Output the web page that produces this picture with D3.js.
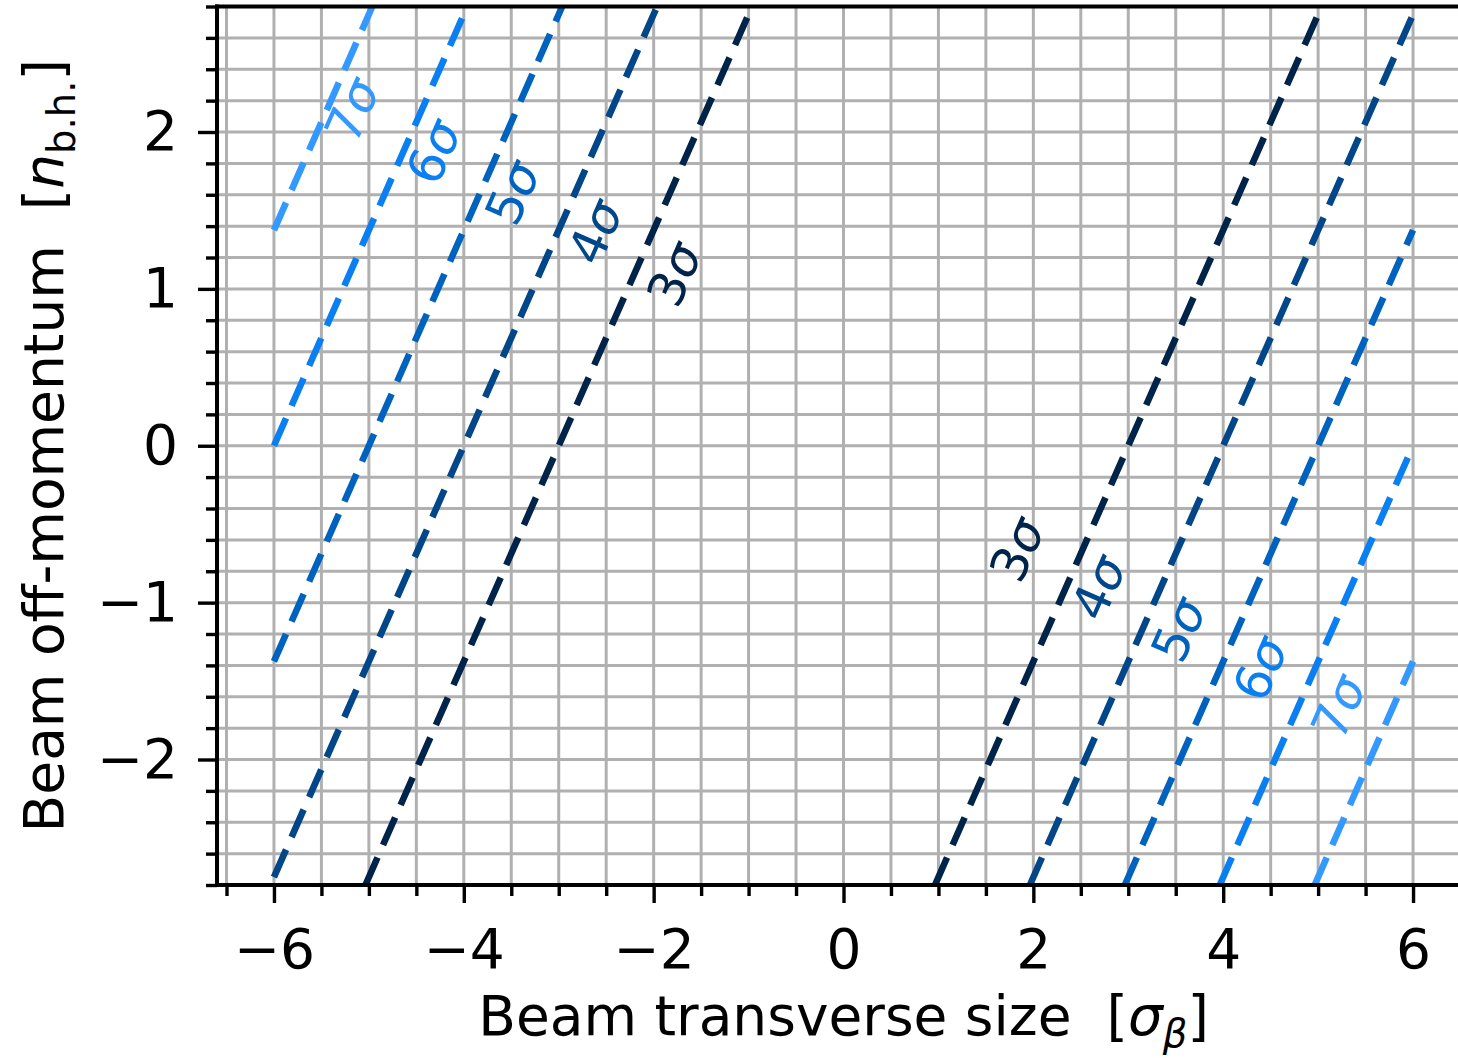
<!DOCTYPE html>
<html>
<head>
<meta charset="utf-8">
<script src="https://cdn.jsdelivr.net/npm/d3@7"></script>
<style>
  html, body { margin: 0; padding: 0; background: #ffffff; }
  svg { display: block; }
  text { font-family: "DejaVu Sans", sans-serif; }
</style>
</head>
<body>
<svg id="chart" width="1458" height="1058"></svg>
<script>
// Beam-halo aperture levels (in units of sigma) drawn as dashed lines
const levels = [3, 4, 5, 6, 7];
const levelColors = ["#00234a", "#004689", "#0062bf", "#0a7ff2", "#3399ff"];
// dispersion ratio: off-momentum per unit of transverse size
const slope = 1.375;
// transverse extent of the computed envelope
const xExtent = [-6, 6];

// label anchor points (x, y) for the left (negative) and right (positive) branches
const leftLabelX  = [-1.786, -2.618, -3.489, -4.322, -5.181];
const leftLabelY  = [ 1.095,  1.365,  1.614,  1.875,  2.141];
const rightLabelX = [ 1.825,  2.684,  3.527,  4.388,  5.213];
const rightLabelY = [-0.660, -0.903, -1.171, -1.419, -1.664];

// axis ticks
const xMajorTicks = [-6, -4, -2, 0, 2, 4, 6];
const xMinorTicks = [-6.5, -5.5, -5, -4.5, -3.5, -3, -2.5, -1.5, -1, -0.5, 0.5, 1, 1.5, 2.5, 3, 3.5, 4.5, 5, 5.5, 6.5];
const yMajorTicks = [-2, -1, 0, 1, 2];
const yMinorTicks = [-2.8, -2.6, -2.4, -2.2, -1.8, -1.6, -1.4, -1.2, -0.8, -0.6, -0.4, -0.2,
                     0.2, 0.4, 0.6, 0.8, 1.2, 1.4, 1.6, 1.8, 2.2, 2.4, 2.6, 2.8];

const xDomain = [-6.6, 6.6];
const yDomain = [-2.8, 2.8];

const plot = { left: 217, right: 1470, top: 6.5, bottom: 885 };

const svg = d3.select("#chart");
svg.append("rect").attr("width", 1458).attr("height", 1058).attr("fill", "#ffffff");

const x = d3.scaleLinear().domain(xDomain).range([plot.left, plot.right]);
const y = d3.scaleLinear().domain(yDomain).range([plot.bottom, plot.top]);

const minus = v => (v < 0 ? "\u2212" + Math.abs(v) : String(v));

svg.append("clipPath").attr("id", "plotClip")
  .append("rect")
  .attr("x", plot.left).attr("y", plot.top)
  .attr("width", plot.right - plot.left).attr("height", plot.bottom - plot.top);

// grid on both major and minor ticks
const grid = svg.append("g").attr("clip-path", "url(#plotClip)")
  .attr("stroke", "#b0b0b0").attr("stroke-width", 3);
grid.selectAll("line.gx").data(xMajorTicks.concat(xMinorTicks)).join("line")
  .attr("class", "gx")
  .attr("x1", d => x(d)).attr("x2", d => x(d))
  .attr("y1", plot.top).attr("y2", plot.bottom);
grid.selectAll("line.gy").data(yMajorTicks.concat(yMinorTicks)).join("line")
  .attr("class", "gy")
  .attr("x1", plot.left).attr("x2", plot.right)
  .attr("y1", d => y(d)).attr("y2", d => y(d));

// level lines: x = ±n + y / slope, built from the bottom of the y range upward
function branch(n, sign) {
  const x0 = sign * n;
  let pts = [[xExtent[0], (xExtent[0] - x0) * slope], [xExtent[1], (xExtent[1] - x0) * slope]];
  // trim to the vertical range of the envelope
  const yLo = yDomain[0], yHi = yDomain[1];
  pts = pts.map(([px, py]) => {
    if (py < yLo) return [x0 + yLo / slope, yLo];
    if (py > yHi) return [x0 + yHi / slope, yHi];
    return [px, py];
  });
  return pts;
}

const lineGen = d3.line().x(d => x(d[0])).y(d => y(d[1]));
const lines = svg.append("g").attr("clip-path", "url(#plotClip)");
levels.forEach((n, i) => {
  [-1, 1].forEach(sign => {
    const pts = branch(n, sign);
    if (pts[0][0] >= pts[1][0]) return;
    lines.append("path")
      .attr("d", lineGen(pts))
      .attr("fill", "none")
      .attr("stroke", levelColors[i])
      .attr("stroke-width", 6.6)
      .attr("stroke-dasharray", "30,13.7");
  });
});

// level labels, rotated along the lines
const angle = -Math.atan2(y(0) - y(slope), x(1) - x(0)) * 180 / Math.PI;
function addLabel(lx, ly, n, color) {
  const t = svg.append("text")
    .attr("transform", `translate(${x(lx)},${y(ly)}) rotate(${angle})`)
    .attr("text-anchor", "middle")
    .attr("dy", "0.36em")
    .attr("font-size", 50)
    .attr("fill", color);
  t.append("tspan").text(n);
  t.append("tspan").attr("font-style", "italic").text("\u03c3");
}
levels.forEach((n, i) => {
  addLabel(leftLabelX[i], leftLabelY[i], n, levelColors[i]);
  addLabel(rightLabelX[i], rightLabelY[i], n, levelColors[i]);
});

// axes
const fontSize = 55;
svg.append("g").attr("transform", `translate(0,${plot.bottom})`)
  .call(d3.axisBottom(x).tickValues(xMajorTicks).tickFormat(minus).tickSize(18).tickPadding(26));
svg.append("g").attr("transform", `translate(0,${plot.bottom})`)
  .call(d3.axisBottom(x).tickValues(xMinorTicks).tickFormat("").tickSize(11));
svg.append("g").attr("transform", `translate(${plot.left},0)`)
  .call(d3.axisLeft(y).tickValues(yMajorTicks).tickFormat(minus).tickSize(19).tickPadding(20));
svg.append("g").attr("transform", `translate(${plot.left},0)`)
  .call(d3.axisLeft(y).tickValues(yMinorTicks).tickFormat("").tickSize(11));

svg.selectAll(".domain").remove();
svg.selectAll(".tick line").attr("stroke", "#000").attr("stroke-width", 3.4);
svg.selectAll(".tick text").attr("font-size", fontSize).attr("fill", "#000")
  .attr("font-family", "'DejaVu Sans', sans-serif");

// spines: left, bottom, top (right one lies past the canvas edge)
const spines = svg.append("g").attr("stroke", "#000").attr("stroke-width", 4).attr("stroke-linecap", "square");
spines.append("line").attr("x1", plot.left).attr("x2", plot.left).attr("y1", plot.top).attr("y2", plot.bottom);
spines.append("line").attr("x1", plot.left).attr("x2", plot.right).attr("y1", plot.bottom).attr("y2", plot.bottom);
spines.append("line").attr("x1", plot.left).attr("x2", plot.right).attr("y1", plot.top).attr("y2", plot.top);
spines.append("line").attr("x1", plot.right).attr("x2", plot.right).attr("y1", plot.top).attr("y2", plot.bottom);

// axis titles
const xTitle = svg.append("text")
  .attr("x", x(0)).attr("y", 1035)
  .attr("text-anchor", "middle").attr("font-size", fontSize).attr("fill", "#000");
xTitle.append("tspan").text("Beam transverse size\u00a0\u00a0[");
xTitle.append("tspan").attr("font-style", "italic").text("\u03c3");
xTitle.append("tspan").attr("font-style", "italic").attr("font-size", fontSize * 0.7).attr("dy", 12).text("\u03b2");
xTitle.append("tspan").attr("dy", -12).text("]");

const yTitle = svg.append("text")
  .attr("transform", `translate(63,${y(0)}) rotate(-90)`)
  .attr("text-anchor", "middle").attr("font-size", fontSize).attr("fill", "#000");
yTitle.append("tspan").text("Beam off-momentum\u00a0\u00a0[");
yTitle.append("tspan").attr("font-style", "italic").text("n");
yTitle.append("tspan").attr("font-size", fontSize * 0.7).attr("dy", 12).text("b.h.");
yTitle.append("tspan").attr("dy", -12).text("]");
</script>
</body>
</html>
